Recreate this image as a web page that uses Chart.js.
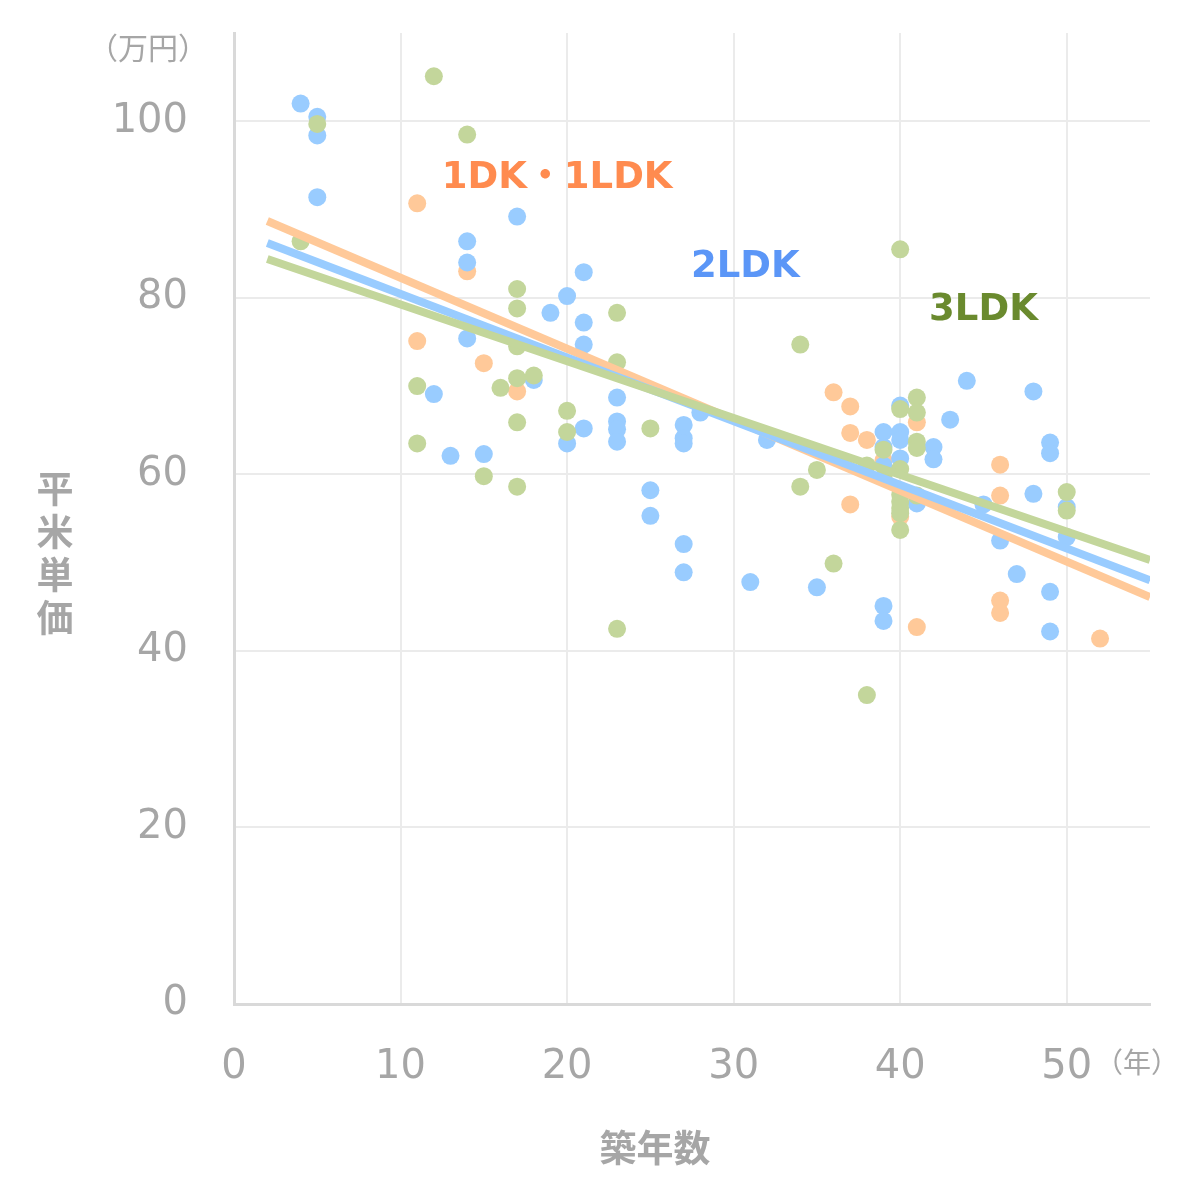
<!DOCTYPE html>
<html>
<head>
<meta charset="utf-8">
<script src="https://cdn.jsdelivr.net/npm/chart.js@4.4.1/dist/chart.umd.min.js"></script>
<style>
  body { margin: 0; background: #fff; }
  #wrap { width: 1200px; height: 1196px; position: relative; }
</style>
</head>
<body>
<div id="wrap"><canvas id="priceChart"></canvas></div>
<script>
// 築年数 vs 平米単価 (x, y) per floor plan
const oneLdk = [
  [11, 90.7], [11, 75.1], [14, 83], [15, 72.6], [17, 69.4], [36, 69.3], [37, 67.7],
  [37, 64.7], [37, 56.6], [38, 63.9], [39, 61.6], [40, 55.2], [41, 65.9], [41, 42.7],
  [46, 61.1], [46, 57.6], [46, 45.7], [46, 44.3], [52, 41.4]
];
const twoLdk = [
  [4, 102], [5, 100.5], [5, 98.4], [5, 91.4], [12, 69.1], [13, 62.1], [14, 86.4], [14, 84],
  [14, 75.4], [15, 62.3], [17, 89.2], [18, 70.7], [19, 78.3], [20, 80.2], [20, 63.5],
  [21, 82.9], [21, 77.2], [21, 74.7], [21, 65.2], [23, 68.7], [23, 66], [23, 65.1], [23, 63.7],
  [25, 58.2], [25, 55.3], [27, 65.6], [27, 64.1], [27, 63.5], [27, 52.1], [27, 48.9], [28, 67],
  [31, 47.8], [32, 63.9], [35, 47.2], [39, 64.8], [39, 63.1], [39, 61], [39, 45.1], [39, 43.4],
  [40, 67.8], [40, 64.8], [40, 63.9], [40, 61.8], [41, 56.7], [42, 63.1], [42, 61.7],
  [43, 66.2], [44, 70.6], [45, 56.6], [46, 52.5], [47, 48.7], [48, 69.4], [48, 57.8],
  [49, 63.6], [49, 62.4], [49, 46.7], [49, 42.2], [50, 56.3], [50, 52.9]
];
const threeLdk = [
  [4, 86.4], [5, 99.7], [11, 70], [11, 63.5], [12, 105.1], [14, 98.5], [15, 59.8], [16, 69.8],
  [17, 81], [17, 78.8], [17, 74.5], [17, 70.9], [17, 65.9], [17, 58.6], [18, 71.2], [20, 67.2],
  [20, 64.8], [23, 78.3], [23, 72.7], [23, 42.5], [25, 65.2], [34, 74.7], [34, 58.6],
  [35, 60.5], [36, 49.9], [38, 61], [38, 35], [39, 62.8], [39, 59.7], [40, 85.5], [40, 67.4],
  [40, 60.6], [40, 57.7], [40, 56.9], [40, 56.2], [40, 55.6], [40, 53.7], [41, 68.7],
  [41, 67], [41, 63.7], [41, 63], [41, 57.6], [50, 58], [50, 55.9]
];

// trend line end points
const oneTrend = [[2, 88.7], [55, 46.1]];
const twoTrend = [[2, 86.2], [55, 48.0]];
const threeTrend = [[2, 84.4], [55, 50.3]];

const seriesNames = ['1DK・1LDK', '2LDK', '3LDK'];
const labelSpots = [[19.4, 93.5], [30.7, 83.4], [45, 78.6]];

const dotColors = ['#FFC999', '#99CCFF', '#C3D69B'];
const lineColors = ['#FFC999', '#99CCFF', '#C3D69B'];
const textColors = ['#FF8B4F', '#5B96F7', '#6A8A2E'];

const toXY = arr => arr.map(p => ({ x: p[0], y: p[1] }));
const gray = '#A6A6A6';
const jpFont = "'Noto Sans CJK JP', 'Noto Sans', sans-serif";
const numFont = "'DejaVu Sans', 'Noto Sans CJK JP', sans-serif";

function dots(data, i, order) {
  return {
    label: seriesNames[i],
    data: toXY(data),
    backgroundColor: dotColors[i],
    borderWidth: 0,
    pointRadius: 9,
    pointHoverRadius: 9,
    showLine: false,
    order: order
  };
}

function trend(data, i, order) {
  return {
    label: seriesNames[i] + ' trend',
    data: toXY(data),
    borderColor: lineColors[i],
    borderWidth: 8,
    pointRadius: 0,
    showLine: true,
    order: order
  };
}

const extras = {
  id: 'extras',
  afterDraw(chart) {
    const ctx = chart.ctx;
    const xs = chart.scales.x, ys = chart.scales.y;
    ctx.save();
    ctx.textAlign = 'center';
    ctx.textBaseline = 'middle';

    ctx.font = 'bold 37px ' + numFont;
    seriesNames.forEach((name, i) => {
      ctx.fillStyle = textColors[i];
      ctx.fillText(name, xs.getPixelForValue(labelSpots[i][0]), ys.getPixelForValue(labelSpots[i][1]));
    });

    ctx.fillStyle = gray;
    ctx.font = '30px ' + jpFont;
    ctx.fillText('（万円）', 148, 48);
    ctx.font = '28px ' + jpFont;
    ctx.fillText('（年）', 1137, 1062);

    ctx.font = 'bold 37px ' + jpFont;
    ctx.fillText('築年数', 655, 1148);
    ['平', '米', '単', '価'].forEach((ch, k) => {
      ctx.fillText(ch, 55, 489 + k * 43);
    });
    ctx.restore();
  }
};

new Chart(document.getElementById('priceChart'), {
  type: 'scatter',
  data: {
    datasets: [
      dots(oneLdk, 0, 5),
      dots(twoLdk, 1, 4),
      dots(threeLdk, 2, 3),
      trend(oneTrend, 0, 2),
      trend(twoTrend, 1, 1),
      trend(threeTrend, 2, 0)
    ]
  },
  options: {
    responsive: true,
    maintainAspectRatio: false,
    animation: false,
    layout: { padding: { top: 0, right: 50, left: 0, bottom: 0 } },
    plugins: { legend: { display: false }, tooltip: { enabled: false } },
    scales: {
      x: {
        min: 0, max: 55,
        afterFit(scale) { scale.height = 192; },
        grid: { color: '#EBEBEB', lineWidth: 2, drawTicks: false },
        border: { color: '#D9D9D9', width: 3 },
        ticks: {
          stepSize: 10, includeBounds: false, padding: 40,
          color: gray, font: { family: numFont, size: 40 }
        }
      },
      y: {
        min: 0, max: 110,
        afterFit(scale) {
          scale.width = 234;
          scale.paddingTop = 33;
          scale.paddingBottom = 0;
        },
        grid: { color: '#EBEBEB', lineWidth: 2, drawTicks: false },
        border: { color: '#D9D9D9', width: 3 },
        ticks: {
          stepSize: 20, includeBounds: false, padding: 46,
          color: gray, font: { family: numFont, size: 40 }
        }
      }
    }
  },
  plugins: [extras]
});
</script>
</body>
</html>
